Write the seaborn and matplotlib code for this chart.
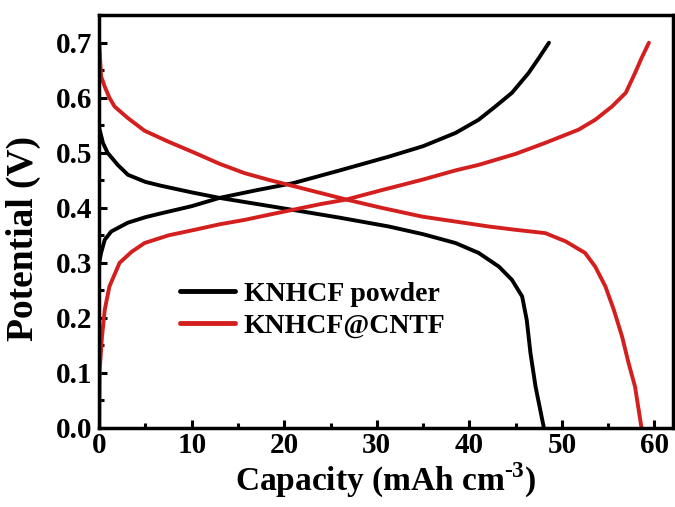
import pandas as pd
import seaborn as sns
import matplotlib.pyplot as plt
from matplotlib.ticker import MultipleLocator

# KNHCF powder, discharge / charge (capacity, potential)
powder_dis_x = [0, 0.4, 0.9, 2, 3.1, 5, 6.7, 10, 13, 17, 21, 26, 31.3, 35, 38.5, 41, 43.2,
                44.6, 45.7, 46.2, 46.6, 47.15, 48.05]
powder_dis_y = [0.545, 0.518, 0.50, 0.478, 0.46, 0.447, 0.44, 0.428, 0.418, 0.407, 0.396, 0.382,
                0.366, 0.352, 0.336, 0.318, 0.293, 0.269, 0.239, 0.196, 0.136, 0.075, 0.0]
powder_chg_x = [0, 0.2, 0.6, 1.3, 3.1, 5, 6.7, 10, 13, 17, 21, 26, 31.3, 35, 38.5, 41, 42.8,
                44.6, 46.4, 47.5, 48.6]
powder_chg_y = [0.30, 0.318, 0.342, 0.357, 0.373, 0.383, 0.39, 0.403, 0.418, 0.432, 0.445, 0.468,
                0.493, 0.512, 0.536, 0.56, 0.584, 0.609, 0.645, 0.672, 0.70]

# KNHCF@CNTF, discharge / charge
cntf_dis_x = [0, 0.2, 0.6, 1.1, 1.66, 3.1, 4.9, 7.5, 10.3, 13, 15.7, 18.5, 21.1, 26.7, 30.5, 34.9,
              38.5, 42.1, 45, 48.2, 50.4, 52.5, 53.6, 54.7, 55.6, 56.5, 57.2, 57.9, 58.6]
cntf_dis_y = [0.70, 0.639, 0.62, 0.60, 0.584, 0.563, 0.54, 0.52, 0.50, 0.48, 0.463, 0.45, 0.439,
              0.415, 0.40, 0.384, 0.375, 0.366, 0.36, 0.354, 0.339, 0.318, 0.293, 0.257, 0.215,
              0.166, 0.118, 0.075, 0.0]
cntf_chg_x = [0, 0.05, 0.3, 0.6, 1.1, 2.2, 3.5, 4.9, 7.5, 10.3, 13, 15.7, 18.5, 21.1, 24,
              26.7, 30.5, 34.9, 38.5, 41, 45, 48.2, 51.8, 53.6, 55.4, 56.9, 57.9, 58.6, 59.4]
cntf_chg_y = [0.0, 0.105, 0.166, 0.215, 0.257, 0.30, 0.32, 0.336, 0.35, 0.36, 0.37, 0.378,
              0.388, 0.397, 0.407, 0.415, 0.432, 0.451, 0.468, 0.478, 0.498, 0.518, 0.542, 0.56,
              0.584, 0.609, 0.645, 0.672, 0.70]

labels = ["KNHCF powder", "KNHCF@CNTF"]

frames = []
for name, seg, xs, ys in [
    (labels[0], "p_dis", powder_dis_x, powder_dis_y),
    (labels[0], "p_chg", powder_chg_x, powder_chg_y),
    (labels[1], "c_dis", cntf_dis_x, cntf_dis_y),
    (labels[1], "c_chg", cntf_chg_x, cntf_chg_y),
]:
    frames.append(pd.DataFrame({"Capacity": xs, "Potential": ys, "Sample": name, "Segment": seg}))
df = pd.concat(frames, ignore_index=True)

sns.set_style("ticks", {"axes.edgecolor": "black", "text.color": "black",
                        "xtick.color": "black", "ytick.color": "black",
                        "axes.labelcolor": "black"})
plt.rcParams["font.family"] = ["Liberation Serif", "DejaVu Serif"]
plt.rcParams["font.weight"] = "bold"
plt.rcParams["mathtext.fontset"] = "custom"
plt.rcParams["mathtext.rm"] = "Liberation Serif:bold"
plt.rcParams["mathtext.bf"] = "Liberation Serif:bold"

fig, ax = plt.subplots(figsize=(6.75, 5.07), dpi=100)
fig.subplots_adjust(left=0.147, right=0.997, top=0.970, bottom=0.156)

sns.lineplot(data=df, x="Capacity", y="Potential", hue="Sample", units="Segment",
             estimator=None, sort=False, palette={labels[0]: "black", labels[1]: "#d41f1f"},
             linewidth=2.8, ax=ax)
for line in ax.get_lines():
    line.set_solid_joinstyle("round")
    line.set_solid_capstyle("round")

ax.set_xlim(0, 62)
ax.set_ylim(0, 0.75)
ax.xaxis.set_major_locator(MultipleLocator(10))
ax.xaxis.set_minor_locator(MultipleLocator(5))
ax.yaxis.set_minor_locator(MultipleLocator(0.05))
ax.set_yticks([0, 0.1, 0.2, 0.3, 0.4, 0.5, 0.6, 0.7])
ax.set_yticklabels(["0.0", "0.1", "0.2", "0.3", "0.4", "0.5", "0.6", "0.7"])
ax.tick_params(which="both", direction="in", width=2.2, labelsize=21)
ax.tick_params(which="major", length=6, pad=5)
ax.tick_params(axis="x", which="major", pad=3)
ax.tick_params(which="minor", length=3.5)
for lab in ax.get_xticklabels() + ax.get_yticklabels():
    lab.set_fontweight("bold")
for sp in ax.spines.values():
    sp.set_linewidth(2.5)

ax.set_xlabel(r"Capacity (mAh cm$^{\text{-3}}$)", fontsize=24, fontweight="bold", labelpad=1)
ax.set_ylabel("Potential (V)", fontsize=27, fontweight="bold")
ax.yaxis.set_label_coords(-0.102, 0.46)

leg = ax.legend(loc="lower left", bbox_to_anchor=(0.097, 0.155), frameon=False,
                prop={"size": 20, "weight": "bold"}, handlelength=2.0, handletextpad=0.3,
                labelspacing=0.25)
for line in leg.get_lines():
    line.set_linewidth(3.5)

fig.savefig("out.png", dpi=100)
